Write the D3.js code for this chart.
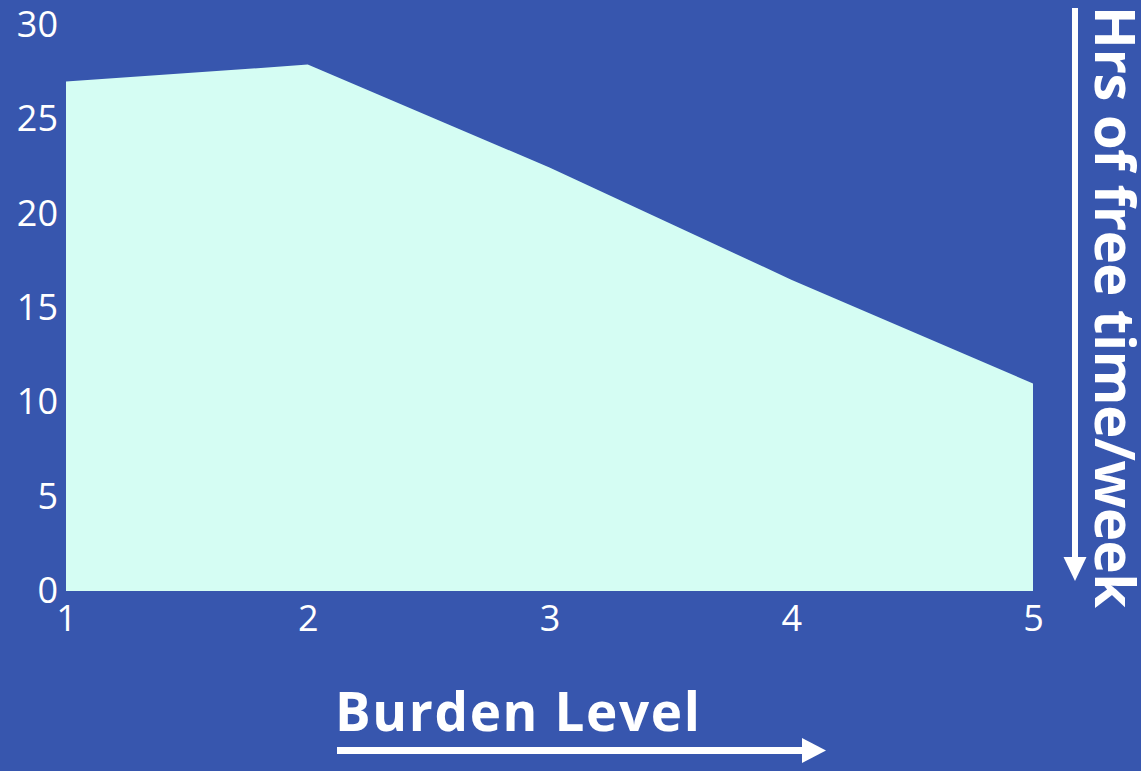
<!DOCTYPE html>
<html>
<head>
<meta charset="utf-8">
<script src="https://cdn.jsdelivr.net/npm/d3@7"></script>
<style>
html,body{margin:0;padding:0;background:#3756AE;}
svg{display:block;}
</style>
</head>
<body>
<svg id="chart" width="1141" height="771"></svg>
<script>
const burdenLevels = [1, 2, 3, 4, 5];
const freeHours = [27, 27.9, 22.45, 16.5, 11];
const yTickValues = [0, 5, 10, 15, 20, 25, 30];
const xTickValues = [1, 2, 3, 4, 5];
const xTitle = "Burden Level";
const yTitle = "Hrs of free time/week";

const W = 1141, H = 771;
const svg = d3.select("#chart");
svg.append("rect").attr("width", W).attr("height", H).attr("fill", "#3756AE");

const x = d3.scaleLinear().domain([1, 5]).range([66, 1033]);
const y = d3.scaleLinear().domain([0, 30]).range([591, 25]);

const data = burdenLevels.map((b, i) => ({b, v: freeHours[i]}));

const area = d3.area()
  .x(d => x(d.b))
  .y0(y(0))
  .y1(d => y(d.v));

svg.append("path")
  .datum(data)
  .attr("d", area)
  .attr("fill", "#D5FDF3");

const tickFont = "'Open Sans', sans-serif";

const yAxis = svg.append("g")
  .attr("transform", `translate(${x(1)},0)`)
  .call(d3.axisLeft(y).tickValues(yTickValues).tickSize(0).tickPadding(8).tickFormat(d3.format("d")));
yAxis.select(".domain").remove();
yAxis.selectAll("text")
  .attr("fill", "#ffffff")
  .style("font-family", tickFont)
  .style("font-size", "36px");

const xAxis = svg.append("g")
  .attr("transform", `translate(0,${y(0)})`)
  .call(d3.axisBottom(x).tickValues(xTickValues).tickSize(0).tickPadding(14).tickFormat(d3.format("d")));
xAxis.select(".domain").remove();
xAxis.selectAll("text")
  .attr("fill", "#ffffff")
  .style("font-family", tickFont)
  .style("font-size", "36px");

// X title
svg.append("text")
  .attr("x", 335)
  .attr("y", 731)
  .attr("fill", "#ffffff")
  .attr("textLength", 365)
  .attr("lengthAdjust", "spacing")
  .style("font-family", "'Open Sans', sans-serif")
  .style("font-weight", "700")
  .style("font-size", "53px")
  .text(xTitle);

// Horizontal arrow
svg.append("rect").attr("x", 337).attr("y", 747).attr("width", 470).attr("height", 7).attr("fill", "#ffffff");
svg.append("path").attr("d", "M802,738 L826,750.5 L802,763 Z").attr("fill", "#ffffff");

// Y title (rotated)
svg.append("text")
  .attr("transform", "translate(1095,6) rotate(90)")
  .attr("x", 0).attr("y", 0)
  .attr("fill", "#ffffff")
  .attr("textLength", 602)
  .attr("lengthAdjust", "spacing")
  .style("font-family", "'Open Sans', sans-serif")
  .style("font-weight", "700")
  .style("font-size", "56px")
  .text(yTitle);

// Vertical arrow
svg.append("rect").attr("x", 1072).attr("y", 8).attr("width", 6).attr("height", 552).attr("fill", "#ffffff");
svg.append("path").attr("d", "M1063.5,557 L1075,581 L1086.5,557 Z").attr("fill", "#ffffff");
</script>
</body>
</html>
